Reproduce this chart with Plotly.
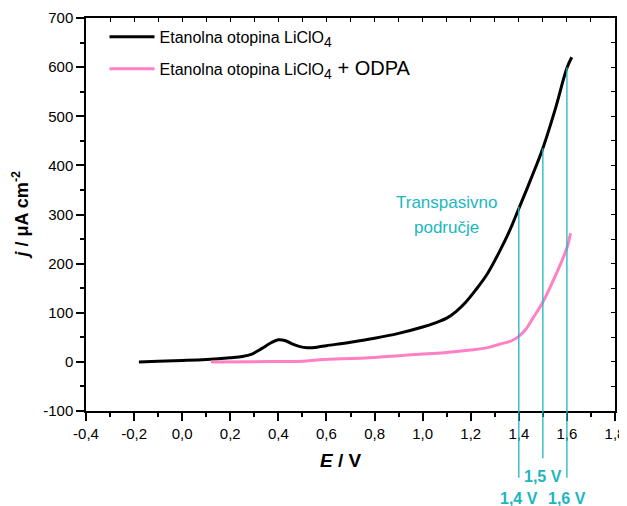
import plotly.graph_objects as go

# ---- data ----
black_x = [-0.18, -0.1, 0.0, 0.1, 0.2, 0.25, 0.29, 0.33, 0.37, 0.40, 0.43, 0.46, 0.49, 0.52, 0.56,
           0.6, 0.7, 0.8, 0.9, 1.0, 1.05, 1.1, 1.14, 1.18, 1.22, 1.27, 1.32, 1.36, 1.4, 1.45,
           1.5, 1.55, 1.6, 1.62]
black_y = [0, 1.5, 3, 5, 8.5, 11, 16, 27, 39, 45, 43, 36, 31, 29, 30,
           33, 40, 48, 58, 71, 79, 89, 103, 122, 146, 180, 225, 265, 312, 372,
           435, 512, 598, 620]

pink_x = [0.12, 0.3, 0.5, 0.56, 0.6, 0.8, 1.0, 1.1, 1.2, 1.27, 1.32, 1.37, 1.4, 1.43, 1.46,
          1.5, 1.55, 1.6, 1.615]
pink_y = [0, 0.5, 1.5, 4, 5, 9, 16, 19, 24, 29, 36, 43, 52, 67, 90,
          122, 173, 232, 262]

series_names = ["Etanolna otopina LiClO<span style='font-size:20px'><sub>4</sub></span>",
                "Etanolna otopina LiClO<span style='font-size:20px'><sub>4</sub> + ODPA</span>"]

x_tickvals = [-0.4, -0.2, 0.0, 0.2, 0.4, 0.6, 0.8, 1.0, 1.2, 1.4, 1.6, 1.8]
x_ticktext = ["-0,4", "-0,2", "0,0", "0,2", "0,4", "0,6", "0,8", "1,0", "1,2", "1,4", "1,6", "1,8"]
y_tickvals = [-100, 0, 100, 200, 300, 400, 500, 600, 700]
y_ticktext = ["-100", "0", "100", "200", "300", "400", "500", "600", "700"]

marker_x = [1.4, 1.5, 1.6]          # transpassive potentials
marker_top = [316, 435, 600]        # current on black curve
marker_labels = ["1,4 V", "1,5 V", "1,6 V"]
marker_label_row = [1, 0, 1]        # 0 = upper row, 1 = lower row

x_range = [-0.4, 1.8]
y_range = [-100, 700]

CYAN = "#1DB6BE"
FONT = "Liberation Sans"

fig = go.Figure()
fig.add_trace(go.Scatter(x=black_x, y=black_y, mode="lines", name=series_names[0], legendgroup="a",
                         line=dict(color="black", width=3, shape="spline", smoothing=1)))
fig.add_trace(go.Scatter(x=pink_x, y=pink_y, mode="lines", name=series_names[1], legendgroup="b",
                         line=dict(color="#FF80C4", width=3, shape="spline", smoothing=1)))

# dummy trace for top/right axes
fig.add_trace(go.Scatter(x=[None], y=[None], xaxis="x2", yaxis="y2", showlegend=False, hoverinfo="skip"))

axis_common = dict(showline=True, linecolor="black", linewidth=1.5, showgrid=False, zeroline=False,
                   ticks="outside", ticklen=8, tickwidth=1.5, tickcolor="black", automargin=False,
                   tickfont=dict(family=FONT, size=15, color="black"))

fig.update_layout(
    template="none",
    width=627, height=506,
    margin=dict(l=78, r=20, t=10, b=103, autoexpand=False),
    plot_bgcolor="white", paper_bgcolor="white",
    font=dict(family=FONT, color="black"),
    showlegend=True,
    legend=dict(x=0.035, y=0.995, xanchor="left", yanchor="top", bgcolor="rgba(0,0,0,0)",
                font=dict(family=FONT, size=16, color="black"), itemwidth=45, tracegroupgap=8),
    xaxis=dict(range=x_range, tickvals=x_tickvals, ticktext=x_ticktext,
               minor=dict(ticks="outside", ticklen=4, tickwidth=1.5, tickcolor="black", dtick=0.1, tick0=0),
               **axis_common),
    yaxis=dict(range=y_range, tickvals=y_tickvals, ticktext=y_ticktext,
               minor=dict(ticks="outside", ticklen=4, tickwidth=1.5, tickcolor="black", dtick=50, tick0=0),
               **axis_common),
    xaxis2=dict(range=x_range, overlaying="x", side="top", showline=True, linecolor="black", linewidth=1.5,
                ticks="inside", ticklen=4, tickwidth=1.2, tickcolor="black", dtick=0.1, tick0=0,
                showticklabels=False, showgrid=False, zeroline=False, automargin=False),
    yaxis2=dict(range=y_range, overlaying="y", side="right", showline=True, linecolor="black", linewidth=1.5,
                ticks="inside", ticklen=4, tickwidth=1.2, tickcolor="black", dtick=50, tick0=0,
                showticklabels=False, showgrid=False, zeroline=False, automargin=False),
)

# axis titles
fig.add_annotation(xref="paper", yref="paper", x=(341 - 86) / 529, y=-0.125, xanchor="center", yanchor="middle",
                   text="<b><i>E</i> / V</b>", showarrow=False, font=dict(family=FONT, size=19, color="black"))
fig.add_annotation(xref="paper", yref="paper", x=(21 - 86) / 529, y=0.5, textangle=-90, xanchor="center",
                   yanchor="middle", text="<b><i>j</i> / μA cm<sup>-2</sup></b>", showarrow=False,
                   font=dict(family=FONT, size=18, color="black"))

# transpassive region markers
ymin, ymax = y_range
for xv, top, lab, row in zip(marker_x, marker_top, marker_labels, marker_label_row):
    top_paper = (top - ymin) / (ymax - ymin)
    bottom_paper = -0.17 if row == 1 else -0.12
    fig.add_shape(type="line", xref="x", yref="paper", x0=xv, x1=xv, y0=top_paper, y1=bottom_paper,
                  line=dict(color=CYAN, width=1.3))
    fig.add_annotation(xref="x", yref="paper", x=xv, y=(-0.167 if row == 0 else -0.222),
                       xanchor="center", yanchor="middle", text="<b>" + lab + "</b>", showarrow=False,
                       font=dict(family=FONT, size=16, color=CYAN))

fig.add_annotation(xref="paper", yref="paper", x=(446 - 86) / 529, y=(411 - 202) / 393,
                   xanchor="center", yanchor="middle",
                   text="Transpasivno", showarrow=False, font=dict(family=FONT, size=17, color=CYAN))
fig.add_annotation(xref="paper", yref="paper", x=(446 - 86) / 529, y=(411 - 227) / 393,
                   xanchor="center", yanchor="middle",
                   text="područje", showarrow=False, font=dict(family=FONT, size=17, color=CYAN))

fig.write_html("out.html")
